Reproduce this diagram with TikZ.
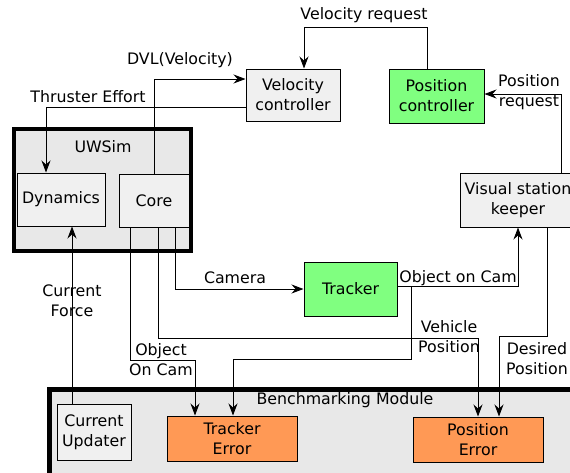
\documentclass[tikz,border=0pt]{standalone}
\usepackage{fontspec}
\setmainfont{DejaVu Sans}
\usetikzlibrary{arrows.meta}
\definecolor{boxgray}{HTML}{F0F0F0}
\definecolor{framegray}{HTML}{E8E8E8}
\definecolor{okgreen}{HTML}{80FF80}
\definecolor{errorange}{HTML}{FF9955}
\tikzset{
  txt/.style={font=\fontsize{15.8}{20}\selectfont, align=center, inner sep=0pt},
  box/.style={txt, draw=black, line width=1pt, fill=boxgray},
  frame/.style={draw=black, fill=framegray},
  conn/.style={draw=black, line width=0.85pt},
  arr/.style={conn, -{Stealth[length=12pt,width=9pt,inset=4pt]}},
}
\begin{document}
\begin{tikzpicture}[x=1pt, y=-1pt]
\useasboundingbox (0,0) rectangle (570,472);

% enclosing modules
\node[frame, line width=4pt, minimum width=177pt, minimum height=122pt] (uwsim) at (102.5,190) {};
\node[txt] (uwsimlabel) at (103,147) {UWSim};
\draw[frame, line width=5pt] (600,500) |- (49.5,389.5) -- (49.5,500);
\node[txt] (benchlabel) at (345,400) {Benchmarking Module};

% blocks
\node[box, minimum width=94pt, minimum height=52pt] (vc) at (293,95) {Velocity\\controller};
\node[box, fill=okgreen, minimum width=95pt, minimum height=54pt] (pc) at (436.5,96) {Position\\controller};
\node[box, minimum width=88pt, minimum height=53pt] (dyn) at (61,199.5) {Dynamics};
\node[box, minimum width=70pt, minimum height=53pt] (core) at (154,200.5) {Core};
\node[box, minimum width=116pt, minimum height=54pt] (vsk) at (518,200) {Visual station\\keeper};
\node[box, fill=okgreen, minimum width=93pt, minimum height=54pt] (tracker) at (350.5,289) {Tracker};
\node[box, minimum width=74pt, minimum height=56pt] (cu) at (94,432) {Current\\Updater};
\node[box, fill=errorange, minimum width=130pt, minimum height=45pt] (te) at (232,438.5) {Tracker\\Error};
\node[box, fill=errorange, minimum width=130pt, minimum height=45pt] (pe) at (478,439.5) {Position\\Error};

% bend points
\coordinate (vrbend) at (304,27);
\coordinate (vpbend) at (478,338);
\coordinate (ocbend) at (195,360);
\coordinate (tsplit) at (411,286);
\coordinate (tbend) at (233,359);
\coordinate (dpbend) at (499,336);

% connectors
\draw[arr] ([xshift=-9.5pt]pc.north) |- (vrbend) -- ([xshift=11pt]vc.north);
\draw[arr] (core.north) |- ([yshift=16pt]vc.west);
\draw[arr] ([yshift=-12pt]vc.west) -| ([xshift=-15pt]dyn.north);
\draw[arr] ([xshift=43pt]vsk.north) |- ([yshift=2pt]pc.east);
\draw[arr] ([xshift=21pt]core.south) |- (tracker.west);
\draw[arr] ([xshift=4pt]core.south) |- (vpbend) -- (pe.north);
\draw[arr] ([xshift=-24pt]core.south) |- (ocbend) -- ([xshift=-37pt]te.north);
\draw[arr] ([yshift=3pt]tracker.east) -| (vsk.south);
\draw[arr] (tsplit) |- (tbend) -- ([xshift=1pt]te.north);
\draw[arr] ([xshift=29pt]vsk.south) |- (dpbend) -- ([xshift=21pt]pe.north);
\draw[arr] ([xshift=-22pt]cu.north) -- ([xshift=11pt]dyn.south);

% connector labels
\node[txt] (lvr) at (364,15) {Velocity request};
\node[txt] (ldvl) at (180,60) {DVL(Velocity)};
\node[txt] (lte) at (88,97) {Thruster Effort};
\node[txt] (lpr) at (529,92.5) {Position\\request};
\node[txt] (lcam) at (235,278) {Camera};
\node[txt] (lcf) at (72,300.5) {Current\\Force};
\node[txt] (loc1) at (161,360) {Object\\On Cam};
\node[txt] (loc2) at (458,278) {Object on Cam};
\node[txt] (lvp) at (449,337) {Vehicle\\Position};
\node[txt] (ldp) at (537,358.5) {Desired\\Position};
\end{tikzpicture}
\end{document}
